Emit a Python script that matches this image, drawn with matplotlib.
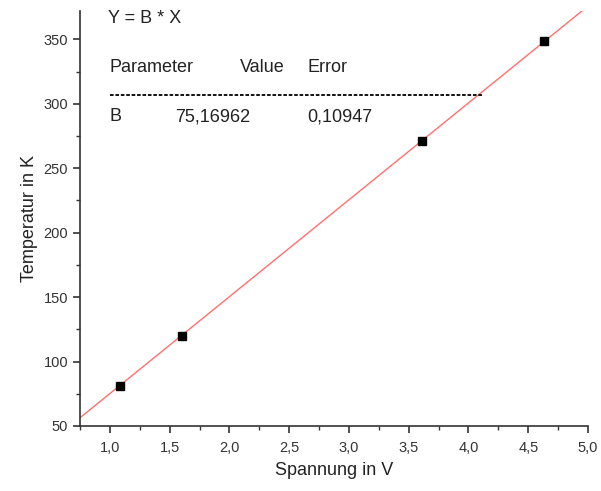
import numpy as np
import matplotlib
matplotlib.use("Agg")
import matplotlib.pyplot as plt
from matplotlib.ticker import MultipleLocator, FuncFormatter

plt.rcParams['font.family'] = ['Liberation Sans', 'DejaVu Sans']

spannung = [1.085, 1.60, 3.615, 4.635]
temperatur = [81.0, 119.5, 271.5, 349.0]
B = 75.16962
B_err = 0.10947
x_range = [0.75, 5.0]
y_range = [50, 372]

fig = plt.figure(figsize=(6.01, 4.91), dpi=100)
ax = fig.add_axes([0.1331, 0.1324, 0.8453, 0.8452])

xl = np.array(x_range)
ax.plot(xl, B * xl, color='#ff7070', lw=1.0, zorder=2)
ax.plot(spannung, temperatur, 's', color='black', ms=5.5, zorder=3)

ax.set_xlim(*x_range)
ax.set_ylim(*y_range)
for s in ['top', 'right']:
    ax.spines[s].set_visible(False)
for s in ['left', 'bottom']:
    ax.spines[s].set_color('#333333')
    ax.spines[s].set_linewidth(1.2)

ax.xaxis.set_major_locator(MultipleLocator(0.5))
ax.xaxis.set_minor_locator(MultipleLocator(0.25))
ax.yaxis.set_major_locator(MultipleLocator(50))
ax.yaxis.set_minor_locator(MultipleLocator(25))
ax.xaxis.set_major_formatter(FuncFormatter(lambda v, p: f"{v:.1f}".replace('.', ',')))
ax.yaxis.set_major_formatter(FuncFormatter(lambda v, p: f"{v:.0f}"))
ax.tick_params(which='major', direction='out', length=5, width=1.2, colors='#333333',
               labelsize=10.5, labelcolor='#333333')
ax.tick_params(which='minor', direction='out', length=3, width=1.0, colors='#333333')
ax.tick_params(axis='x', which='major', pad=6)

ax.set_xlabel('Spannung in V', fontsize=13, color='#222222', labelpad=5)
ax.set_ylabel('Temperatur in K', fontsize=13, color='#222222', labelpad=4)

tc = '#222222'
tr = ax.transAxes
ax.text(0.055, 0.983, 'Y = B * X', transform=tr, fontsize=13, color=tc, va='center', ha='left')
ax.text(0.059, 0.865, 'Parameter', transform=tr, fontsize=13, color=tc, va='center', ha='left')
ax.text(0.315, 0.865, 'Value', transform=tr, fontsize=13, color=tc, va='center', ha='left')
ax.text(0.447, 0.865, 'Error', transform=tr, fontsize=13, color=tc, va='center', ha='left')
ax.plot([0.059, 0.791], [0.798, 0.798], transform=tr, color='black', lw=1.3,
        ls=(0, (2, 1)), clip_on=False)
ax.text(0.059, 0.745, 'B', transform=tr, fontsize=13, color=tc, va='center', ha='left')
ax.text(0.187, 0.745, f"{B:.5f}".replace('.', ','), transform=tr, fontsize=13, color=tc,
        va='center', ha='left')
ax.text(0.447, 0.745, f"{B_err:.5f}".replace('.', ','), transform=tr, fontsize=13, color=tc,
        va='center', ha='left')

fig.savefig('out.png', dpi=100)
